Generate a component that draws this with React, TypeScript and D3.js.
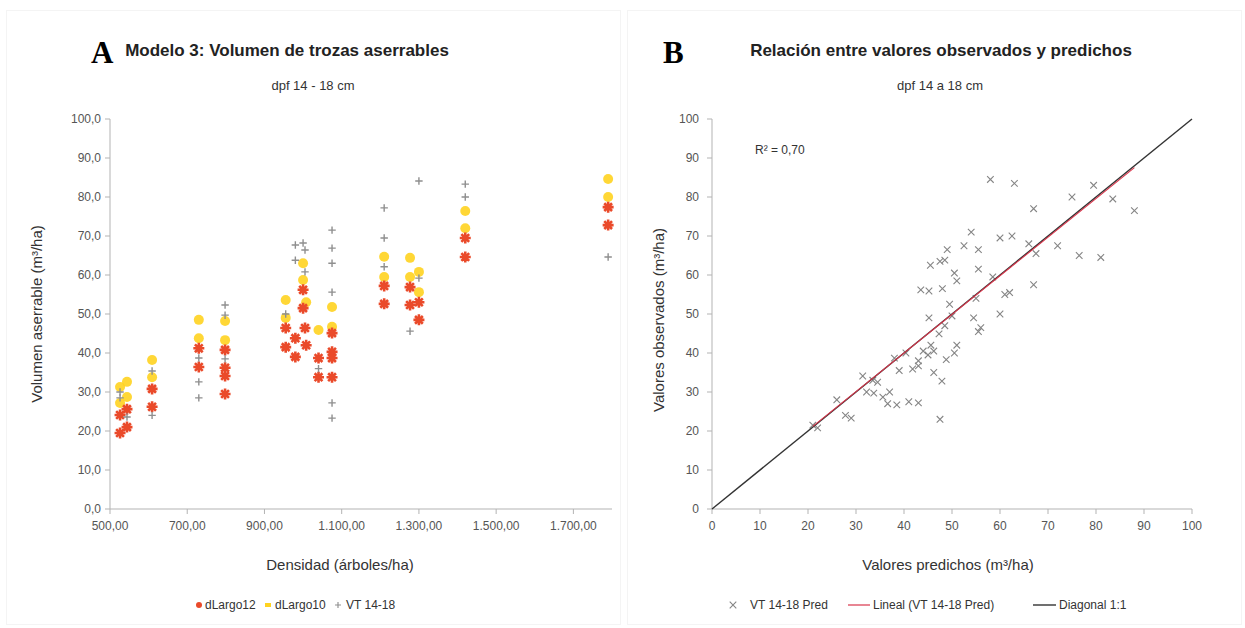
import React from "react";
import * as d3 from "d3";

// ---------- Chart A data ----------
const leftXTicks = [500, 700, 900, 1100, 1300, 1500, 1700];
const leftYTicks = [0, 10, 20, 30, 40, 50, 60, 70, 80, 90, 100];

const dLargo12X = [526, 526, 544, 544, 609, 609, 730, 730, 798, 798, 798, 798, 955, 955, 980, 980, 1000, 1000, 1005, 1008, 1040, 1040, 1075, 1075, 1075, 1075, 1210, 1210, 1277, 1277, 1300, 1300, 1420, 1420, 1790, 1790];
const dLargo12Y = [24.1, 19.5, 25.6, 21.0, 30.8, 26.2, 41.2, 36.4, 40.8, 36.2, 34.1, 29.5, 46.4, 41.5, 43.8, 39.0, 56.2, 51.5, 46.4, 42.0, 38.7, 33.8, 45.1, 40.3, 38.7, 33.8, 57.2, 52.6, 56.9, 52.3, 53.0, 48.5, 69.5, 64.6, 77.4, 72.8];

const dLargo10X = [526, 526, 544, 544, 609, 609, 730, 730, 798, 798, 955, 955, 1000, 1000, 1008, 1040, 1075, 1075, 1210, 1210, 1277, 1277, 1300, 1300, 1420, 1420, 1790, 1790];
const dLargo10Y = [31.3, 27.2, 32.6, 28.7, 38.2, 33.8, 48.5, 43.8, 48.2, 43.3, 53.6, 49.0, 63.0, 58.7, 53.0, 45.9, 51.8, 46.7, 64.7, 59.5, 64.4, 59.5, 60.8, 55.6, 76.4, 72.0, 84.6, 80.0];

const vtX = [526, 526, 544, 609, 609, 730, 730, 730, 798, 798, 798, 955, 980, 980, 1000, 1005, 1005, 1040, 1075, 1075, 1075, 1075, 1075, 1075, 1210, 1210, 1210, 1277, 1300, 1300, 1420, 1420, 1790];
const vtY = [30.0, 28.5, 23.6, 35.4, 24.0, 38.7, 32.6, 28.5, 52.3, 49.7, 38.5, 50.0, 67.7, 63.8, 68.2, 66.4, 60.8, 36.0, 71.5, 66.9, 63.0, 55.6, 27.2, 23.3, 77.2, 69.5, 62.1, 45.6, 84.1, 59.2, 83.3, 80.0, 64.6];

// ---------- Chart B data ----------
const rightTicks = [0, 10, 20, 30, 40, 50, 60, 70, 80, 90, 100];
const predX = [
  21, 22, 26, 27.8, 29, 31.4, 32.2, 33.7, 35.6, 36.6, 38.5, 38, 40.4, 41.8, 43, 43, 43.5, 45.2, 45.2, 45.6, 46.2, 47.3, 47.9,
  44, 45, 43, 41, 39, 34.5, 33.5, 37, 46.2, 48.8,
  45.5, 47.5, 48.5, 48, 47.5, 49, 49.5, 50, 50.5, 51, 50.5, 51, 48.5,
  52.5, 54, 54.5, 55, 55.5, 55.5, 56, 55.5, 58, 58.5, 60, 60, 61, 62, 62.5, 63,
  66, 67, 67, 67.5, 72, 75, 76.5, 79.5, 81, 83.5, 88
];
const obsY = [
  21.5, 20.8, 28, 24, 23.3, 34.1, 30, 29.7, 28.7, 27, 26.7, 38.7, 40, 35.9, 36.7, 27.2, 56.2, 55.9, 49, 42, 40.5, 44.9, 32.8,
  40.5, 39.5, 38, 27.5, 35.5, 32.5, 33, 30, 35, 38.3,
  62.5, 63.5, 63.8, 56.5, 23, 66.5, 52.5, 49.5, 40, 42, 60.5, 58.5, 47,
  67.5, 71, 49, 54, 61.5, 66.5, 46.5, 45.5, 84.5, 59.5, 69.5, 50, 55, 55.5, 70, 83.5,
  68, 57.5, 77, 65.5, 67.5, 80, 65, 83, 64.5, 79.5, 76.5
];
const trendSlope = 0.99;
const trendIntercept = 0.4;
const trendFrom = 21;
const trendTo = 88;

const FONT = "'Liberation Sans', Arial, Helvetica, sans-serif";
const AXIS = "#b3b3b3";
const TXT = "#333333";

const locale = d3.formatLocale({ decimal: ",", thousands: ".", grouping: [3], currency: ["", ""] });
const fmtY1 = locale.format(".1f");
const fmtX2 = locale.format(",.2f");

function starPath(r: number) {
  const parts: string[] = [];
  for (let i = 0; i < 4; i++) {
    const a = (i * Math.PI) / 4;
    const dx = Math.cos(a) * r;
    const dy = Math.sin(a) * r;
    parts.push(`M${-dx},${-dy}L${dx},${dy}`);
  }
  return parts.join("");
}

export default function App() {
  const xL = d3.scaleLinear().domain([500, 1800]).range([110, 612]);
  const yL = d3.scaleLinear().domain([0, 100]).range([509, 119]);
  const xR = d3.scaleLinear().domain([0, 100]).range([712, 1192]);
  const yR = d3.scaleLinear().domain([0, 100]).range([509, 119]);

  const crossPath = d3.symbol().type(d3.symbolTimes).size(30)() as string;
  const plusPath = d3.symbol().type(d3.symbolPlus).size(20)() as string;
  const star = starPath(5.5);

  const line = d3.line<[number, number]>().x((d) => xR(d[0])).y((d) => yR(d[1]));

  return (
    <svg width={1245} height={628} style={{ position: "absolute", left: 0, top: 0, background: "#fff" }} fontFamily={FONT}>
      <rect x={0} y={0} width={1245} height={628} fill="#fff" />
      <rect x={6.5} y={10.5} width={614} height={614} fill="none" stroke="#f4f4f4" />
      <rect x={627.5} y={10.5} width={614} height={614} fill="none" stroke="#f4f4f4" />

      {/* ---------------- Chart A ---------------- */}
      <text x={91} y={63} fontFamily="'Liberation Serif', 'Times New Roman', serif" fontWeight="bold" fontSize={31} fill="#000">A</text>
      <text x={287} y={56} textAnchor="middle" fontWeight="bold" fontSize={17} fill="#222">Modelo 3: Volumen de trozas aserrables</text>
      <text x={313} y={90} textAnchor="middle" fontSize={13} fill={TXT}>dpf 14 - 18 cm</text>

      {leftYTicks.map((t) => (
        <g key={"ly" + t}>
          <line x1={105} x2={110} y1={yL(t)} y2={yL(t)} stroke={AXIS} />
          <text x={101} y={yL(t) + 4} textAnchor="end" fontSize={12} fill="#555">{fmtY1(t)}</text>
        </g>
      ))}
      {leftXTicks.map((t) => (
        <g key={"lx" + t}>
          <line x1={xL(t)} x2={xL(t)} y1={509} y2={514} stroke={AXIS} />
          <text x={xL(t)} y={530} textAnchor="middle" fontSize={12} fill="#555">{fmtX2(t)}</text>
        </g>
      ))}
      <line x1={110} x2={110} y1={119} y2={509} stroke={AXIS} />
      <line x1={110} x2={612} y1={509} y2={509} stroke={AXIS} />

      {dLargo10X.map((x, i) => (
        <circle key={"y" + i} cx={xL(x)} cy={yL(dLargo10Y[i])} r={5} fill="#ffd320" opacity={0.9} />
      ))}
      {dLargo12X.map((x, i) => (
        <path key={"r" + i} d={star} transform={`translate(${xL(x)},${yL(dLargo12Y[i])})`} stroke="#ea4a2a" strokeWidth={2.6} fill="none" />
      ))}
      {vtX.map((x, i) => (
        <path key={"g" + i} d={plusPath} transform={`translate(${xL(x)},${yL(vtY[i])})`} fill="none" stroke="#8f8f8f" strokeWidth={1.4} />
      ))}

      <text transform={`translate(42,${314}) rotate(-90)`} textAnchor="middle" fontSize={15} fill={TXT}>Volumen aserrable (m³/ha)</text>
      <text x={340} y={570} textAnchor="middle" fontSize={15} fill={TXT}>Densidad (árboles/ha)</text>

      <g fontSize={12} fill={TXT}>
        <circle cx={199} cy={605} r={3} fill="#ea4a2a" />
        <text x={205} y={609}>dLargo12</text>
        <rect x={265} y={603} width={6} height={4} fill="#ffd320" />
        <text x={275} y={609}>dLargo10</text>
        <path d={plusPath} transform="translate(338,605) scale(0.8)" fill="none" stroke="#8f8f8f" strokeWidth={1.4} />
        <text x={346} y={609}>VT 14-18</text>
      </g>

      {/* ---------------- Chart B ---------------- */}
      <text x={663} y={63} fontFamily="'Liberation Serif', 'Times New Roman', serif" fontWeight="bold" fontSize={31} fill="#000">B</text>
      <text x={941} y={56} textAnchor="middle" fontWeight="bold" fontSize={17} fill="#222">Relación entre valores observados y predichos</text>
      <text x={940} y={90} textAnchor="middle" fontSize={13} fill={TXT}>dpf 14 a 18 cm</text>

      {rightTicks.map((t) => (
        <g key={"ry" + t}>
          <line x1={707} x2={712} y1={yR(t)} y2={yR(t)} stroke={AXIS} />
          <text x={699} y={yR(t) + 4} textAnchor="end" fontSize={12} fill="#555">{t}</text>
        </g>
      ))}
      {rightTicks.map((t) => (
        <g key={"rx" + t}>
          <line x1={xR(t)} x2={xR(t)} y1={509} y2={514} stroke={AXIS} />
          <text x={xR(t)} y={530} textAnchor="middle" fontSize={12} fill="#555">{t}</text>
        </g>
      ))}
      <line x1={712} x2={712} y1={119} y2={509} stroke={AXIS} />
      <line x1={712} x2={1192} y1={509} y2={509} stroke={AXIS} />

      {predX.map((x, i) => (
        <path key={"x" + i} d={crossPath} transform={`translate(${xR(x)},${yR(obsY[i])})`} fill="none" stroke="#858585" strokeWidth={1.1} />
      ))}

      <path d={line([[0, 0], [100, 100]]) as string} stroke="#333" strokeWidth={1.4} fill="none" />
      <path
        d={line([[trendFrom, trendSlope * trendFrom + trendIntercept], [trendTo, trendSlope * trendTo + trendIntercept]]) as string}
        stroke="#d9344a" strokeWidth={1.1} fill="none"
      />

      <text x={755} y={154} fontSize={12} fill={TXT}>R² = 0,70</text>

      <text transform={`translate(664,${320}) rotate(-90)`} textAnchor="middle" fontSize={15} fill={TXT}>Valores observados (m³/ha)</text>
      <text x={948} y={570} textAnchor="middle" fontSize={15} fill={TXT}>Valores predichos (m³/ha)</text>

      <g fontSize={12} fill={TXT}>
        <path d={crossPath} transform="translate(733,605)" fill="none" stroke="#858585" strokeWidth={1.1} />
        <text x={750} y={609}>VT 14-18 Pred</text>
        <line x1={848} x2={870} y1={605} y2={605} stroke="#d9344a" strokeWidth={1.2} />
        <text x={873} y={609}>Lineal (VT 14-18 Pred)</text>
        <line x1={1033} x2={1056} y1={605} y2={605} stroke="#333" strokeWidth={1.4} />
        <text x={1059} y={609}>Diagonal 1:1</text>
      </g>
    </svg>
  );
}
